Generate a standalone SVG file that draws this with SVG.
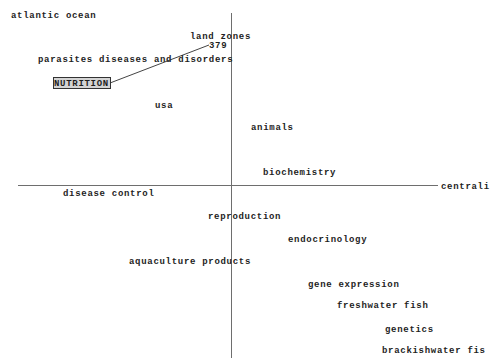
<svg xmlns="http://www.w3.org/2000/svg" width="503" height="358" viewBox="0 0 503 358">
  <style>
    .lbl { font-family: "Liberation Mono", "DejaVu Sans Mono", monospace; font-size: 9px; letter-spacing: 0.7px; fill: #1e1e1e; font-weight: bold; }
    .axis { stroke: #6e6e6e; stroke-width: 1; fill: none; }
    .link { stroke: #444; stroke-width: 1; fill: none; }
    .hl { fill: #d4d4d4; stroke: #333; stroke-width: 1; }
  </style>
  <rect width="503" height="358" fill="#ffffff"/>

  <!-- map axes -->
  <g id="axes">
    <line class="axis" x1="231.5" y1="13" x2="231.5" y2="358"/>
    <line class="axis" x1="18" y1="185.5" x2="438" y2="185.5"/>
  </g>

  <!-- connectors -->
  <g id="connectors">
    <line class="link" x1="110" y1="83" x2="209" y2="45"/>
  </g>

  <!-- theme labels -->
  <g id="atlantic-ocean"><text class="lbl" x="11" y="18">atlantic ocean</text></g>
  <g id="land-zones"><text class="lbl" x="190" y="39">land zones</text></g>
  <g id="n379"><text class="lbl" x="209" y="47.5">379</text></g>
  <g id="parasites"><text class="lbl" x="38" y="62">parasites diseases and disorders</text></g>
  <g id="nutrition">
    <rect class="hl" x="53.5" y="77.5" width="57" height="11"/>
    <text class="lbl" x="54" y="86">NUTRITION</text>
  </g>
  <g id="usa"><text class="lbl" x="155" y="108">usa</text></g>
  <g id="animals"><text class="lbl" x="251" y="130">animals</text></g>
  <g id="biochemistry"><text class="lbl" x="263" y="175">biochemistry</text></g>
  <g id="centrality"><text class="lbl" x="441" y="189">centrali</text></g>
  <g id="disease-control"><text class="lbl" x="63" y="196">disease control</text></g>
  <g id="reproduction"><text class="lbl" x="208" y="219">reproduction</text></g>
  <g id="endocrinology"><text class="lbl" x="288" y="242">endocrinology</text></g>
  <g id="aquaculture-products"><text class="lbl" x="129" y="264">aquaculture products</text></g>
  <g id="gene-expression"><text class="lbl" x="308" y="287">gene expression</text></g>
  <g id="freshwater-fish"><text class="lbl" x="337" y="308">freshwater fish</text></g>
  <g id="genetics"><text class="lbl" x="385" y="332">genetics</text></g>
  <g id="brackishwater-fish"><text class="lbl" x="382" y="353">brackishwater fis</text></g>
</svg>
